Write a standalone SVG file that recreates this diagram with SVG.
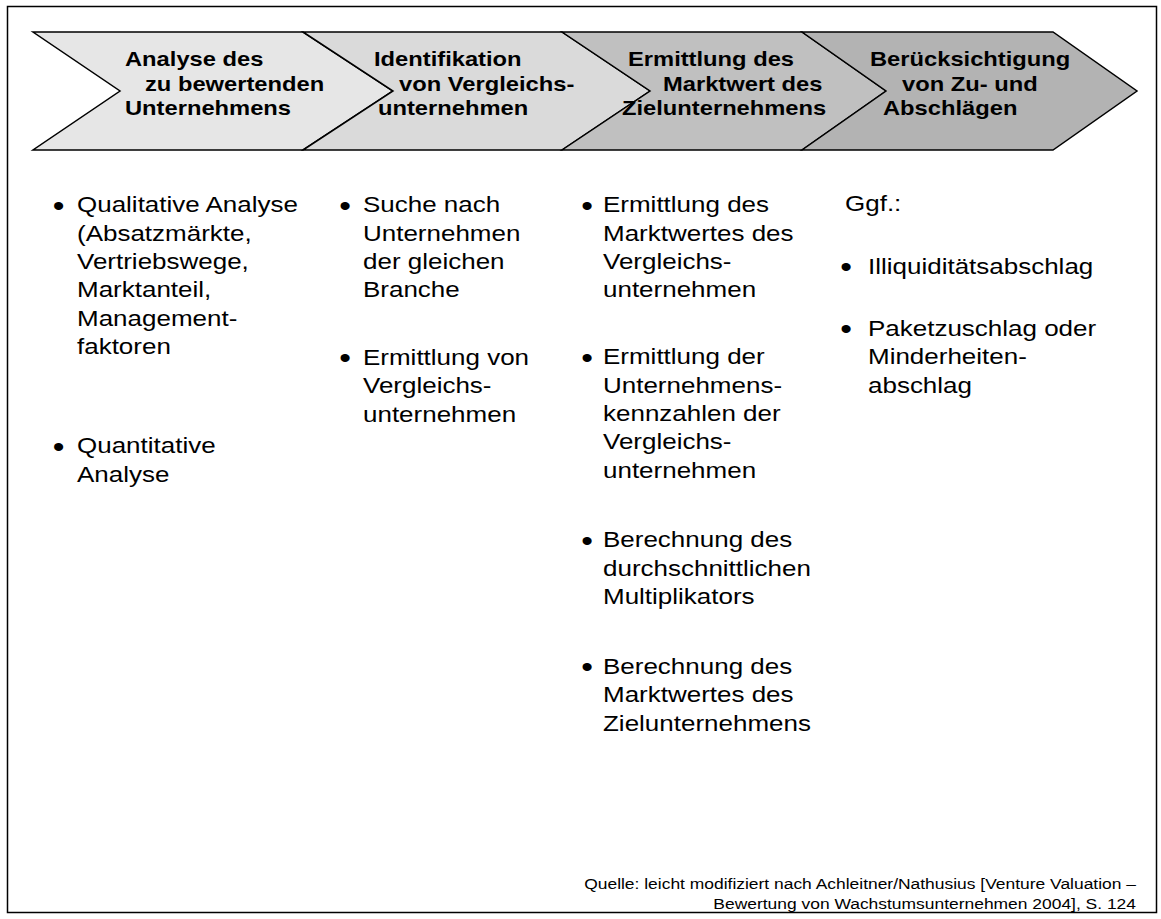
<svg xmlns="http://www.w3.org/2000/svg" width="1161" height="919" viewBox="0 0 1161 919">
<style>
.frame{fill:#fff;stroke:#000;stroke-width:1.5}
.chev{stroke:#000;stroke-width:1.5;stroke-linejoin:miter}
.h{font-family:"Liberation Sans",Arial,sans-serif;font-weight:bold;font-size:21px;fill:#000}
.b{font-family:"Liberation Sans",Arial,sans-serif;font-size:22.5px;fill:#000}
.d{font-family:"Liberation Sans",Arial,sans-serif;font-size:29px;fill:#000}
.f{font-family:"Liberation Sans",Arial,sans-serif;font-size:15.3px;fill:#000;text-anchor:end}
</style>
<rect class="frame" x="7.5" y="6.5" width="1149" height="906"/>
<g id="connectors"></g>
<g id="step1">
<path class="chev" fill="#e6e6e6" d="M33,32 L303,32 L393,91 L303,150 L33,150 L120,91 Z"/>
<text class="h" transform="translate(125,65.5) scale(1.13,1)">Analyse des</text>
<text class="h" transform="translate(145,90.5) scale(1.13,1)">zu bewertenden</text>
<text class="h" transform="translate(125,115) scale(1.13,1)">Unternehmens</text>
</g>
<g id="step2">
<path class="chev" fill="#dadada" d="M303,32 L562,32 L650,91 L562,150 L303,150 L393,91 Z"/>
<text class="h" transform="translate(374,65.5) scale(1.13,1)">Identifikation</text>
<text class="h" transform="translate(399,90.5) scale(1.13,1)">von Vergleichs-</text>
<text class="h" transform="translate(378,115) scale(1.13,1)">unternehmen</text>
</g>
<g id="step3">
<path class="chev" fill="#c0c0c0" d="M562,32 L802,32 L886,91 L802,150 L562,150 L650,91 Z"/>
<text class="h" transform="translate(628,65.5) scale(1.13,1)">Ermittlung des</text>
<text class="h" transform="translate(663,90.5) scale(1.13,1)">Marktwert des</text>
<text class="h" transform="translate(622,115) scale(1.13,1)">Zielunternehmens</text>
</g>
<g id="step4">
<path class="chev" fill="#b3b3b3" d="M802,32 L1053,32 L1137,91 L1053,150 L802,150 L886,91 Z"/>
<text class="h" transform="translate(870,65.5) scale(1.13,1)">Berücksichtigung</text>
<text class="h" transform="translate(902,90.5) scale(1.13,1)">von Zu- und</text>
<text class="h" transform="translate(883,115) scale(1.13,1)">Abschlägen</text>
</g>
<g id="list1" transform="translate(77,0) scale(1.155,1)">
<text class="d" x="-21" y="216">•</text>
<text class="b" x="0" y="212.5">Qualitative Analyse</text>
<text class="b" x="0" y="240.8">(Absatzmärkte,</text>
<text class="b" x="0" y="269.1">Vertriebswege,</text>
<text class="b" x="0" y="297.4">Marktanteil,</text>
<text class="b" x="0" y="325.7">Management-</text>
<text class="b" x="0" y="354">faktoren</text>
<text class="d" x="-21" y="457">•</text>
<text class="b" x="0" y="453.5">Quantitative</text>
<text class="b" x="0" y="481.8">Analyse</text>
</g>
<g id="list2" transform="translate(363,0) scale(1.155,1)">
<text class="d" x="-20.6" y="216">•</text>
<text class="b" x="0" y="212.5">Suche nach</text>
<text class="b" x="0" y="240.8">Unternehmen</text>
<text class="b" x="0" y="269.1">der gleichen</text>
<text class="b" x="0" y="297.4">Branche</text>
<text class="d" x="-20.6" y="368.5">•</text>
<text class="b" x="0" y="365">Ermittlung von</text>
<text class="b" x="0" y="393.3">Vergleichs-</text>
<text class="b" x="0" y="421.6">unternehmen</text>
</g>
<g id="list3" transform="translate(603,0) scale(1.155,1)">
<text class="d" x="-18.8" y="216">•</text>
<text class="b" x="0" y="212.5">Ermittlung des</text>
<text class="b" x="0" y="240.8">Marktwertes des</text>
<text class="b" x="0" y="269.1">Vergleichs-</text>
<text class="b" x="0" y="297.4">unternehmen</text>
<text class="d" x="-18.8" y="368">•</text>
<text class="b" x="0" y="364.5">Ermittlung der</text>
<text class="b" x="0" y="392.8">Unternehmens-</text>
<text class="b" x="0" y="421.1">kennzahlen der</text>
<text class="b" x="0" y="449.4">Vergleichs-</text>
<text class="b" x="0" y="477.7">unternehmen</text>
<text class="d" x="-18.8" y="551">•</text>
<text class="b" x="0" y="547.5">Berechnung des</text>
<text class="b" x="0" y="575.8">durchschnittlichen</text>
<text class="b" x="0" y="604.1">Multiplikators</text>
<text class="d" x="-18.8" y="677.5">•</text>
<text class="b" x="0" y="674">Berechnung des</text>
<text class="b" x="0" y="702.3">Marktwertes des</text>
<text class="b" x="0" y="730.6">Zielunternehmens</text>
</g>
<g id="list4" transform="translate(868,0) scale(1.155,1)">
<text class="b" x="-19.9" y="211.5">Ggf.:</text>
<text class="d" x="-24" y="277.5">•</text>
<text class="b" x="0" y="274">Illiquiditätsabschlag</text>
<text class="d" x="-24" y="339.5">•</text>
<text class="b" x="0" y="336">Paketzuschlag oder</text>
<text class="b" x="0" y="364.3">Minderheiten-</text>
<text class="b" x="0" y="392.6">abschlag</text>
</g>
<g id="source">
<text class="f" transform="translate(1136,889) scale(1.14,1)">Quelle: leicht modifiziert nach Achleitner/Nathusius [Venture Valuation –</text>
<text class="f" transform="translate(1136,908.5) scale(1.14,1)">Bewertung von Wachstumsunternehmen 2004], S. 124</text>
</g>
</svg>
